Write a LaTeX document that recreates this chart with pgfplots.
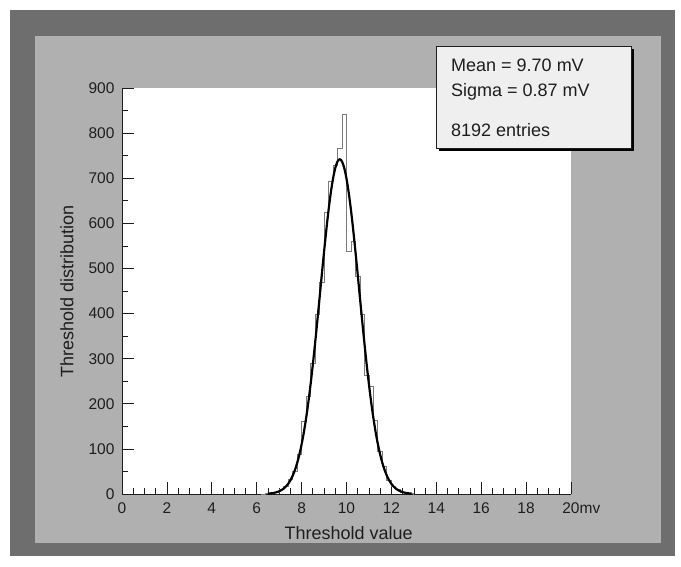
\documentclass[border=0pt]{standalone}
\usepackage{fontspec}
\setmainfont{Liberation Sans}
\usepackage{pgfplots}
\pgfplotsset{compat=1.18}

\definecolor{darkpanel}{HTML}{6E6E6E}
\definecolor{lightpanel}{HTML}{B0B0B0}
\definecolor{boxfill}{HTML}{EFEFEF}
\definecolor{histline}{HTML}{7A7A7A}
\definecolor{txt}{HTML}{1E1E1E}

\begin{document}
\begin{tikzpicture}[x=1pt,y=1pt]
% canvas and panels (1pt = 1px of the reference)
\fill[white] (0,0) rectangle (681,566);
\fill[darkpanel] (10,10) rectangle (675,556);
\fill[lightpanel] (35,23) rectangle (661,530);

\begin{axis}[
  at={(122pt,72pt)}, anchor=south west,
  scale only axis, width=449pt, height=406pt,
  xmin=0, xmax=20, ymin=0, ymax=900,
  axis lines=left,
  axis line style={-, draw=txt, line width=0.8pt},
  axis background/.style={fill=white},
  xtick={0,2,...,20},
  xticklabels={0,2,4,6,8,10,12,14,16,18,{20\rlap{mv}}},
  minor x tick num=3,
  ytick={0,100,...,900},
  minor y tick num=1,
  tick align=inside,
  major tick length=12pt,
  minor tick length=6pt,
  tick style={draw=txt, line width=0.7pt},
  /pgf/number format/assume math mode=true,
  ticklabel style={font=\fontsize{15.5}{18}\selectfont, text=txt},
  xticklabel style={yshift=-5pt},
  yticklabel style={xshift=-4pt},
  every axis x label/.style={at={(axis description cs:0.505,-0.096)},anchor=center,
    font=\fontsize{18}{21}\selectfont, text=txt},
  every axis y label/.style={at={(axis description cs:-0.1225,0.5)},rotate=90,anchor=center,
    font=\fontsize{18}{21}\selectfont, text=txt},
  xlabel={Threshold value},
  ylabel={Threshold distribution},
  clip=true,
]
% histogram, 0.2 mV bins (left edge, count)
\addplot[const plot mark left, draw=histline, line width=0.9pt, mark=none] coordinates {
  (6.2,0) (6.4,1) (6.6,2) (6.8,4) (7.0,9) (7.2,17) (7.4,32) (7.6,50) (7.8,88)
  (8.0,160) (8.2,216) (8.4,290) (8.6,398) (8.8,470) (9.0,624) (9.2,692)
  (9.4,728) (9.6,765) (9.8,842) (10.0,537) (10.2,560) (10.4,483) (10.6,397)
  (10.8,262) (11.0,238) (11.2,164) (11.4,95) (11.6,60) (11.8,30) (12.0,16)
  (12.2,9) (12.4,4) (12.6,2) (12.8,1) (13.0,0)
};
% gaussian fit curve
\addplot[draw=black, line width=2.2pt, smooth, mark=none] coordinates {
  (6.5,0.9) (6.6,1.3) (6.7,1.9) (6.8,2.9) (6.9,4.2) (7.0,6.0) (7.1,8.5)
  (7.2,11.9) (7.3,16.5) (7.4,22.5) (7.5,30.3) (7.6,40.3) (7.7,52.8)
  (7.8,68.4) (7.9,87.3) (8.0,110.0) (8.1,136.7) (8.2,167.8) (8.3,203.3)
  (8.4,243.0) (8.5,286.6) (8.6,333.6) (8.7,383.3) (8.8,434.5) (8.9,486.2)
  (9.0,536.8) (9.1,584.9) (9.2,629.0) (9.3,667.6) (9.4,699.2) (9.5,722.6)
  (9.6,737.1) (9.7,742.0) (9.8,737.1) (9.9,722.6) (10.0,699.2) (10.1,667.6)
  (10.2,629.0) (10.3,584.9) (10.4,536.8) (10.5,486.2) (10.6,434.5)
  (10.7,383.3) (10.8,333.6) (10.9,286.6) (11.0,243.0) (11.1,203.3)
  (11.2,167.8) (11.3,136.7) (11.4,110.0) (11.5,87.3) (11.6,68.4)
  (11.7,52.8) (11.8,40.3) (11.9,30.3) (12.0,22.5) (12.1,16.5) (12.2,11.9)
  (12.3,8.5) (12.4,6.0) (12.5,4.2) (12.6,2.9) (12.7,1.9) (12.8,1.3) (12.9,0.9)
};
\end{axis}

% statistics box with shadow
\fill[black] (439,415) rectangle (634,517);
\filldraw[fill=boxfill, draw=txt, line width=0.6pt] (436,418) rectangle (631,520);
\begin{scope}[every node/.style={anchor=base west, inner sep=0pt, text=txt,
    font=\fontsize{18}{21}\selectfont}]
  \node at (451,494.5) {Mean = 9.70 mV};
  \node at (451,469.5) {Sigma = 0.87 mV};
  \node at (451,429.5) {8192 entries};
\end{scope}
\end{tikzpicture}
\end{document}
